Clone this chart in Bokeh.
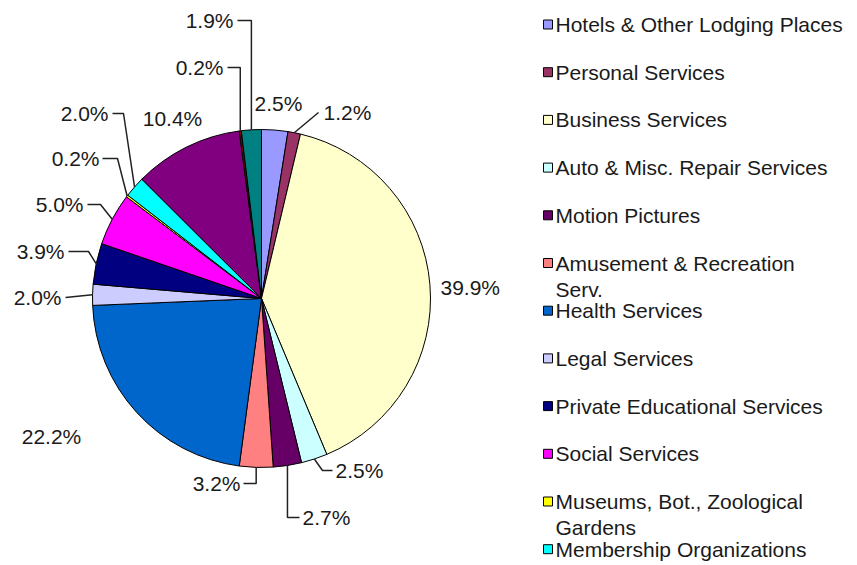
import math
from bokeh.plotting import figure
from bokeh.models import Range1d, ColumnDataSource
from bokeh.core.properties import value
from bokeh.embed import file_html
from bokeh.resources import INLINE

# ---------------- data ----------------
categories = [
    "Hotels & Other Lodging Places",
    "Personal Services",
    "Business Services",
    "Auto & Misc. Repair Services",
    "Motion Pictures",
    "Amusement & Recreation Serv.",
    "Health Services",
    "Legal Services",
    "Private Educational Services",
    "Social Services",
    "Museums, Bot., Zoological Gardens",
    "Membership Organizations",
    "Engineering & Management Services",
    "Private Households",
    "Services, n.e.c.",
]
shares = [2.5, 1.2, 39.9, 2.5, 2.7, 3.2, 22.2, 2.0, 3.9, 5.0, 0.2, 2.0, 10.4, 0.2, 1.9]
colors = ["#9999FF", "#993366", "#FFFFCC", "#CCFFFF", "#660066", "#FF8080",
          "#0066CC", "#CCCCFF", "#000080", "#FF00FF", "#FFFF00", "#00FFFF",
          "#800080", "#800000", "#008080"]
legend_visible = 12

# ---------------- layout ----------------
W, H = 857, 565
CX, CY, R = 261, 298, 169          # pie centre / radius in page pixels
FONT = value("Liberation Sans")
TXT = "#1a1a1a"

def Y(yi):
    return H - yi

# label placement: (text x, text y, align, leader elbows) ; "E" = edge x
label_layout = [
    (278, 103, "center", None),
    (323, 112, "left", [(318, 112)]),
    (440, 287, "left", None),
    (335, 470, "left", [(322, 470), (332, 470)]),
    (302, 517, "left", [("E", 517), (299, 517)]),
    (240, 483, "right", [("E", 483), (243, 483)]),
    (51, 436, "center", None),
    (61, 297, "right", [(65, 297)]),
    (64, 251, "right", [(88, 251), (68, 251)]),
    (83, 204, "right", [(100, 204), (87, 204)]),
    (99, 158, "right", [(117, 158), (102, 158)]),
    (108, 113, "right", [(123, 113), (112, 113)]),
    (172, 118, "center", None),
    (223, 67, "right", [("E", 67), (227, 67)]),
    (233, 20, "right", [("E", 20), (237, 20)]),
]
legend_wrap = {
    "Amusement & Recreation Serv.": ["Amusement & Recreation", "Serv."],
    "Museums, Bot., Zoological Gardens": ["Museums, Bot., Zoological", "Gardens"],
}
LEG_SQ_X, LEG_TXT_X, LEG_Y0, LEG_DY, LEG_WRAP_DY = 547.5, 555, 24, 47.7, 26

# ---------------- figure ----------------
p = figure(width=W, height=H, output_backend="svg", toolbar_location=None,
           x_range=Range1d(0, W), y_range=Range1d(0, H),
           min_border=0, background_fill_color="white", border_fill_color="white")
p.axis.visible = False
p.grid.visible = False
p.outline_line_color = None

total = sum(shares)
starts, ends, mids = [], [], []
cum = 0.0
for s in shares:
    a0 = 2 * math.pi * cum / total
    a1 = 2 * math.pi * (cum + s) / total
    starts.append(math.pi / 2 - a0)
    ends.append(math.pi / 2 - a1)
    mids.append((a0 + a1) / 2)
    cum += s

src = ColumnDataSource(dict(x=[CX] * len(shares), y=[Y(CY)] * len(shares),
                            start=starts, end=ends, color=colors))
p.wedge(x="x", y="y", radius=R, start_angle="start", end_angle="end",
        direction="clock", fill_color="color", line_color="black",
        line_width=1, source=src)

# labels and leader lines
lx, ly, lt, la = [], [], [], []
xs, ys = [], []
for i, s in enumerate(shares):
    tx, ty, align, elbows = label_layout[i]
    lx.append(tx); ly.append(Y(ty)); lt.append(f"{s:.1f}%"); la.append(align)
    if elbows:
        ex = CX + R * math.sin(mids[i])
        ey = CY - R * math.cos(mids[i])
        px, py = [ex], [Y(ey)]
        for (bx, by) in elbows:
            px.append(ex if bx == "E" else bx)
            py.append(Y(by))
        xs.append(px); ys.append(py)

p.multi_line(xs=xs, ys=ys, line_color="#222222", line_width=1.5)
p.text(x="x", y="y", text="t", text_align="a", text_baseline="middle",
       text_font=FONT, text_font_size=value("21px"), text_color=TXT,
       source=ColumnDataSource(dict(x=lx, y=ly, t=lt, a=la)))

# legend (manual, as in the original, cut off after 12 entries)
sq_x, sq_y, sq_c = [], [], []
tx_, ty_, tt_ = [], [], []
for i in range(legend_visible):
    yy = LEG_Y0 + LEG_DY * i
    sq_x.append(LEG_SQ_X); sq_y.append(Y(yy)); sq_c.append(colors[i])
    lines = legend_wrap.get(categories[i], [categories[i]])
    for k, ln in enumerate(lines):
        tx_.append(LEG_TXT_X); ty_.append(Y(yy + LEG_WRAP_DY * k)); tt_.append(ln)

p.rect(x="x", y="y", width=9, height=9, fill_color="c", line_color="black",
       line_width=1, source=ColumnDataSource(dict(x=sq_x, y=sq_y, c=sq_c)))
p.text(x="x", y="y", text="t", text_align="left", text_baseline="middle",
       text_font=FONT, text_font_size=value("21px"), text_color=TXT,
       source=ColumnDataSource(dict(x=tx_, y=ty_, t=tt_)))

open("out.html", "w").write(file_html(p, INLINE))
